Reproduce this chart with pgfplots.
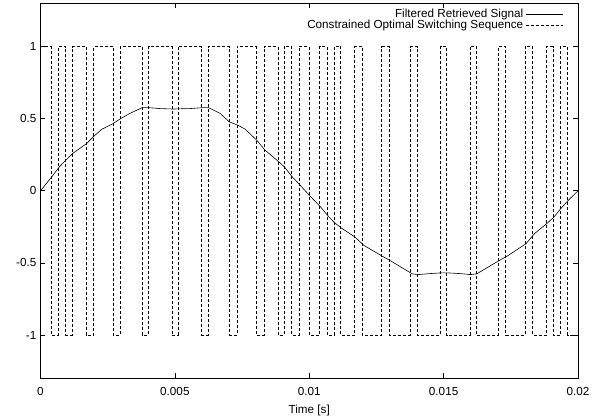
\documentclass[border=0pt]{standalone}
\usepackage{fontspec}
\setmainfont{Liberation Sans}
\usepackage{pgfplots}
\pgfplotsset{compat=1.18}

\begin{document}
\fontsize{11.7}{14}\selectfont
\begin{tikzpicture}
\begin{axis}[
    scale only axis,
    width=537.5pt, height=375pt,
    xmin=0, xmax=0.02, ymin=-1.3, ymax=1.3,
    xtick={0,0.005,0.01,0.015,0.02},
    xticklabels={0,0.005,0.01,0.015,0.02},
    ytick={-1,-0.5,0,0.5,1},
    yticklabels={-1,-0.5,0,0.5,1},
    scaled ticks=false,
    tick pos=both, tick align=inside,
    major tick length=5pt,
    tick style={black, line width=0.6pt},
    axis line style={black, line width=0.8pt},
    xticklabel style={yshift=-5pt},
    xlabel={Time [s]},
    xlabel style={yshift=-1pt},
    legend style={draw=none, fill=none, at={(1,1)}, anchor=north east,
        xshift=-12pt, yshift=-2pt, row sep=-3.5pt},
    legend cell align=right,
    legend plot pos=right,
    legend image code/.code={\draw[#1] (0pt,0pt) -- (37pt,0pt);},
]
% filtered signal
\addplot[black, line width=0.6pt] coordinates {
    (0,0) (0.000417,0.096) (0.000700,0.166) (0.000938,0.212) (0.001198,0.259)
    (0.001719,0.328) (0.002002,0.381) (0.002277,0.426) (0.002709,0.467)
    (0.002995,0.502) (0.003330,0.537) (0.003795,0.577) (0.004048,0.576)
    (0.004447,0.570) (0.004919,0.567) (0.005563,0.570) (0.005998,0.576)
    (0.006244,0.577) (0.006679,0.537) (0.007025,0.478) (0.007338,0.455)
    (0.007610,0.428) (0.008045,0.351) (0.008353,0.282) (0.008874,0.200)
    (0.009072,0.166) (0.009369,0.096) (0.009630,0.045) (0.010028,-0.036)
    (0.010426,-0.113) (0.010735,-0.182) (0.010958,-0.224) (0.011181,-0.256)
    (0.011702,-0.321) (0.012037,-0.379) (0.012733,-0.455) (0.013005,-0.483)
    (0.013377,-0.525) (0.013834,-0.576) (0.014058,-0.581) (0.014493,-0.574)
    (0.014928,-0.569) (0.015137,-0.569) (0.015609,-0.574) (0.016007,-0.581)
    (0.016231,-0.576) (0.017072,-0.483) (0.017347,-0.455) (0.018065,-0.367)
    (0.018374,-0.298) (0.018858,-0.224) (0.019107,-0.182) (0.019356,-0.124)
    (0.019639,-0.066) (0.020000,0)
};
\addlegendentry{Filtered Retrieved Signal}
% switching sequence
\addplot[black, line width=0.5pt, dash pattern=on 3pt off 2pt, const plot] coordinates {
    (0,1) (0.000385,-1) (0.000664,1) (0.000937,-1) (0.001171,1) (0.001691,-1)
    (0.001981,1) (0.002695,-1) (0.002968,1) (0.003773,-1) (0.004026,1)
    (0.004888,-1) (0.005112,1) (0.005974,-1) (0.006227,1) (0.007032,-1)
    (0.007305,1) (0.008019,-1) (0.008309,1) (0.008829,-1) (0.009063,1)
    (0.009336,-1) (0.009615,1) (0.010000,-1) (0.010385,1) (0.010664,-1)
    (0.010937,1) (0.011171,-1) (0.011691,1) (0.011981,-1) (0.012695,1)
    (0.012968,-1) (0.013773,1) (0.014026,-1) (0.014888,1) (0.015112,-1)
    (0.015974,1) (0.016227,-1) (0.017032,1) (0.017305,-1) (0.018019,1)
    (0.018309,-1) (0.018829,1) (0.019063,-1) (0.019336,1) (0.019615,-1)
    (0.020000,-1)
};
\addlegendentry{Constrained Optimal Switching Sequence}
\end{axis}
\pgfresetboundingbox
\path (current axis.south west) ++(-40.5pt,-40.7pt) rectangle ++(603pt,419pt);
\end{tikzpicture}
\end{document}
